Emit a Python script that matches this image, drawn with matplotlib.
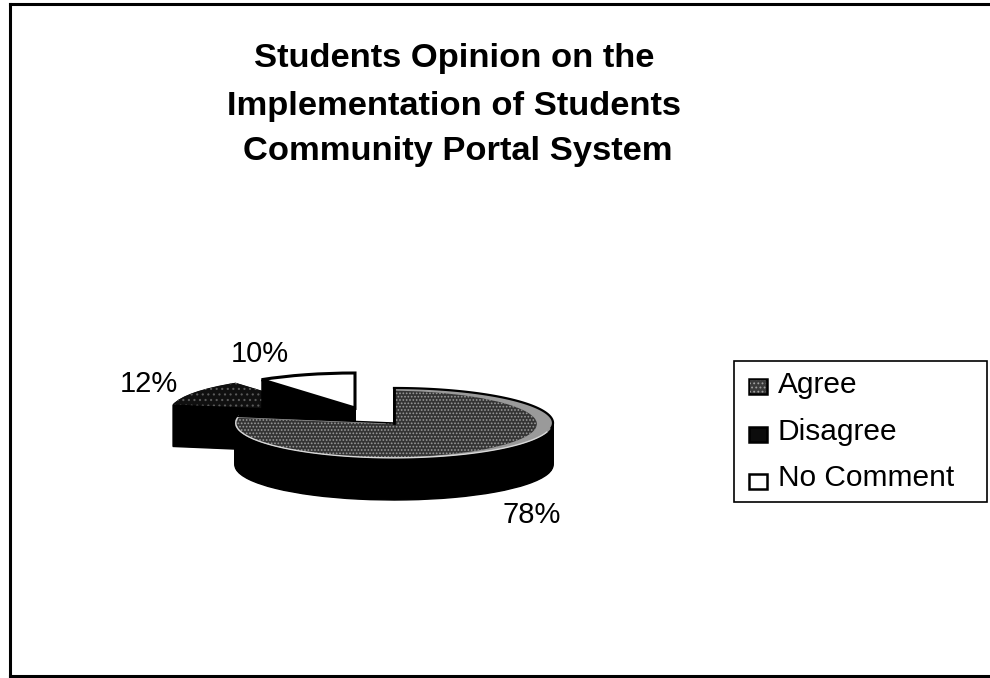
import matplotlib
matplotlib.use("Agg")
import matplotlib.pyplot as plt
import numpy as np
from matplotlib.patches import Wedge, Rectangle
from matplotlib.transforms import Affine2D

categories = ["Agree", "Disagree", "No Comment"]
values = [78, 12, 10]
title_lines = ["Students Opinion on the", "Implementation of Students", "Community Portal System"]

W, H = 990, 678
plt.rcParams['font.family'] = ['Liberation Sans', 'DejaVu Sans']
plt.rcParams['hatch.linewidth'] = 0.8
fig = plt.figure(figsize=(W / 100, H / 100), dpi=100)
ax = fig.add_axes([0, 0, 1, 1])
ax.set_xlim(0, W)
ax.set_ylim(H, 0)
ax.axis('off')

RX, RY, DEPTH = 159, 35, 42
centers = {"Agree": (394, 423), "Disagree": (329, 411), "No Comment": (355, 408)}


def ellipse_tr(center, scale=1.0, dy=0):
    # unit circle squashed to an ellipse; y axis of the data is inverted
    return Affine2D().scale(RX * scale, -RY * scale).translate(center[0], center[1] + dy) + ax.transData


def slice_patch(center, a0, a1, scale=1.0, dy=0, **kw):
    return Wedge((0, 0), 1, a0, a1, transform=ellipse_tr(center, scale, dy), **kw)


def arc_xy(a0, a1):
    t = np.radians(np.linspace(a0, a1, 120))
    return np.cos(t), np.sin(t)


# angles run clockwise from twelve o'clock, as in the original chart
spans = {}
cum = 0
for c, v in zip(categories, values):
    start = cum / sum(values) * 360
    cum += v
    end = cum / sum(values) * 360
    spans[c] = (90 - end, 90 - start)

z = 2
for c in ["Disagree", "No Comment", "Agree"]:
    a0, a1 = spans[c]
    for d in range(DEPTH, 0, -1):
        ax.add_patch(slice_patch(centers[c], a0, a1, dy=d, fc="black", ec="black", lw=1, zorder=z))
    z += 1
    if c == "Agree":
        outer = slice_patch(centers[c], a0, a1, fc="#9a9a9a", ec="none", lw=0, zorder=z)
        ax.add_patch(outer)
        z += 1
        inner_c = (centers[c][0] - 9, centers[c][1] + 1)
        inner = slice_patch(inner_c, a0, a1, scale=0.955,
                            fc="#343434", ec="#9a9a9a", hatch=".....", lw=0, zorder=z)
        ax.add_patch(inner)
        inner.set_clip_path(outer)
        z += 1
        # pale line along the front rim of the top face
        xs, ys = arc_xy(a0, -15)
        ax.plot(xs, ys, color="#d8d8d8", lw=1.0, transform=ellipse_tr(centers[c], 0.995), zorder=z)
        # black outline on the back of the top face and its two cut edges
        xs, ys = arc_xy(-8, a1)
        ax.plot(xs, ys, color="black", lw=1.6, transform=ellipse_tr(centers[c]), zorder=z)
        xs, ys = arc_xy(a1, a1)
        ax.plot([0, xs[0]], [0, ys[0]], color="black", lw=2.0, transform=ellipse_tr(centers[c]), zorder=z)
        xs, ys = arc_xy(a0, a0)
        ax.plot([0, xs[0]], [0, ys[0]], color="black", lw=1.0, transform=ellipse_tr(centers[c]), zorder=z)
        z += 1
    elif c == "Disagree":
        ax.add_patch(slice_patch(centers[c], a0, a1, fc="#101010", ec="#5a5a5a", hatch="...", lw=0, zorder=z))
        z += 1
    else:
        ax.add_patch(slice_patch(centers[c], a0, a1, fc="#ffffff", ec="black", lw=2.2, zorder=z))
        z += 1

# labels
ax.text(120, 384, f"{values[1]}%", fontsize=21, va="center", ha="left", zorder=20)
ax.text(231, 354, f"{values[2]}%", fontsize=21, va="center", ha="left", zorder=20)
ax.text(503, 515, f"{values[0]}%", fontsize=21, va="center", ha="left", zorder=20)

# title
for line, x, y in zip(title_lines, [454, 454, 458], [67, 115, 160]):
    ax.text(x, y, line, fontsize=24.8, fontweight="bold", ha="center", va="baseline", zorder=20)

# legend box
ax.add_patch(Rectangle((734, 361), 253, 141, fc="white", ec="black", lw=1.2, zorder=10))
leg_faces = ["#3a3a3a", "#0c0c0c", "#ffffff"]
leg_hatch = ["....", None, None]
for c, col, h, y, ty in zip(categories, leg_faces, leg_hatch, [386, 434.5, 481.5], [385, 432, 478]):
    ax.add_patch(Rectangle((749, y - 7.5), 18, 15, fc=col, ec="black", lw=1.8, zorder=11))
    if h:
        ax.add_patch(Rectangle((750, y - 6.5), 16, 13, fc=col, ec="#a0a0a0", hatch=h, lw=0, zorder=11))
    ax.text(778, ty, c, fontsize=21.5, va="center", ha="left", zorder=12)

# scanned page frame
ax.plot([10, 10], [H, 3.5], color="black", lw=2.2, zorder=30)
ax.plot([10, W], [3.5, 3.5], color="black", lw=2.2, zorder=30)
ax.plot([10, W], [676, 676], color="black", lw=2.2, zorder=30)

fig.savefig("out.png", dpi=100)
